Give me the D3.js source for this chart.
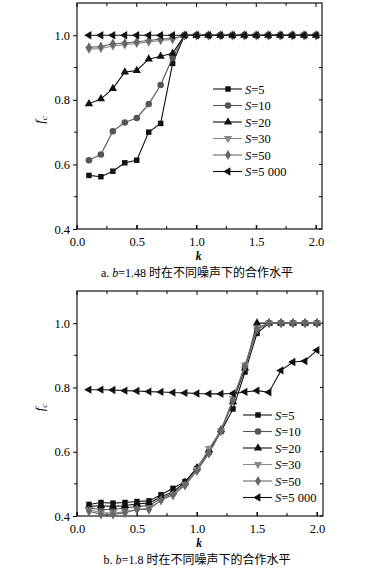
<!DOCTYPE html>
<html>
<head>
<meta charset="utf-8">
<script src="https://cdn.jsdelivr.net/npm/d3@7"></script>
<style>
  body { margin: 0; background: #fff; }
</style>
</head>
<body>
<svg id="chart" width="367" height="568"></svg>
<script>
// k values, shared by both panels
const kVals = [0.1,0.2,0.3,0.4,0.5,0.6,0.7,0.8,0.9,1.0,1.1,1.2,1.3,1.4,1.5,1.6,1.7,1.8,1.9,2.0];
const seriesNames = ["5", "10", "20", "30", "50", "5 000"];

// panel a: b=1.48
const topS5    = [0.566,0.562,0.579,0.605,0.613,0.700,0.727,0.913,1,1,1,1,1,1,1,1,1,1,1,1];
const topS10   = [0.613,0.631,0.703,0.730,0.744,0.787,0.846,0.931,1,1,1,1,1,1,1,1,1,1,1,1];
const topS20   = [0.788,0.803,0.835,0.886,0.891,0.926,0.935,0.944,1,1,1,1,1,1,1,1,1,1,1,1];
const topS30   = [0.957,0.959,0.967,0.971,0.975,0.979,0.984,0.987,1,1,1,1,1,1,1,1,1,1,1,1];
const topS50   = [0.963,0.965,0.974,0.976,0.980,0.984,0.988,0.990,1,1,1,1,1,1,1,1,1,1,1,1];
const topS5000 = [1,1,1,1,1,1,1,1,1,1,1,1,1,1,1,1,1,1,1,1];

// panel b: b=1.8
const botS5    = [0.436,0.442,0.440,0.442,0.445,0.447,0.466,0.486,0.507,0.548,0.598,0.663,0.733,0.848,0.968,1,1,1,1,1];
const botS10   = [0.425,0.420,0.420,0.425,0.430,0.432,0.455,0.470,0.500,0.545,0.600,0.665,0.760,0.865,0.985,1,1,1,1,1];
const botS20   = [0.430,0.432,0.430,0.432,0.438,0.440,0.460,0.475,0.505,0.550,0.605,0.668,0.755,0.860,1,1,1,1,1,1];
const botS30   = [0.420,0.410,0.410,0.412,0.420,0.425,0.448,0.468,0.498,0.545,0.610,0.665,0.765,0.870,0.985,1,1,1,1,1];
const botS50   = [0.415,0.405,0.405,0.410,0.420,0.420,0.450,0.465,0.495,0.540,0.595,0.665,0.760,0.865,0.980,1,1,1,1,1];
const botS5000 = [0.793,0.793,0.792,0.790,0.789,0.787,0.786,0.784,0.783,0.781,0.780,0.780,0.781,0.786,0.790,0.785,0.853,0.879,0.882,0.916];

const xTicks = [0, 0.5, 1.0, 1.5, 2.0];
const yTicks = [0.4, 0.6, 0.8, 1.0];

const SERIF = '"Liberation Serif", "Times New Roman", serif';
const CAPFONT = '"Liberation Serif", "Noto Sans CJK SC", serif';

// marker style per series (same order as seriesNames)
const styles = [
  { color: "#111", marker: d3.symbolSquare, rot: 0 },
  { color: "#555", marker: d3.symbolCircle, rot: 0 },
  { color: "#111", marker: d3.symbolTriangle, rot: 0 },
  { color: "#8a8a8a", marker: d3.symbolTriangle, rot: 180 },
  { color: "#666", marker: d3.symbolDiamond, rot: 0 },
  { color: "#111", marker: d3.symbolTriangle, rot: -90 }
];

const svg = d3.select("#chart");

function drawPanel(opt) {
  const { left, right, top, bottom, data, legendX, legendY, caption, bVal } = opt;
  const x = d3.scaleLinear().domain([0, 2.05]).range([left, right]);
  const y = d3.scaleLinear().domain([0.4, 1.1]).range([bottom, top]);
  const g = svg.append("g").attr("font-family", SERIF);

  // frame
  g.append("rect").attr("x", left).attr("y", top)
    .attr("width", right - left).attr("height", bottom - top)
    .attr("fill", "none").attr("stroke", "#000").attr("stroke-width", 1.1);

  // x axis: ticks point inward
  const xAxis = d3.axisBottom(x).tickValues(xTicks).tickFormat(d3.format(".1f"))
    .tickSizeInner(-4).tickSizeOuter(0).tickPadding(8);
  g.append("g").attr("transform", `translate(0,${bottom})`).call(xAxis)
    .attr("font-family", SERIF)
    .call(a => a.select(".domain").remove())
    .call(a => a.selectAll("text").attr("font-size", 12.5).attr("fill", "#000").style("font-family", SERIF));
  // minor x ticks + top ticks
  d3.range(0, 2.01, 0.25).forEach(v => {
    const len = (v % 0.5 === 0) ? 4 : 3;
    g.append("line").attr("x1", x(v)).attr("x2", x(v)).attr("y1", bottom).attr("y2", bottom - len).attr("stroke", "#000");
    g.append("line").attr("x1", x(v)).attr("x2", x(v)).attr("y1", top).attr("y2", top + len).attr("stroke", "#000");
  });

  // y axis: ticks outward
  const yAxis = d3.axisLeft(y).tickValues(yTicks).tickFormat(d3.format(".1f"))
    .tickSizeInner(4).tickSizeOuter(0).tickPadding(3);
  g.append("g").attr("transform", `translate(${left},0)`).call(yAxis)
    .attr("font-family", SERIF)
    .call(a => a.select(".domain").remove())
    .call(a => a.selectAll("text").attr("font-size", 12.5).attr("fill", "#000").style("font-family", SERIF));
  d3.range(0.5, 1.01, 0.2).forEach(v => {
    g.append("line").attr("x1", left).attr("x2", left - 3).attr("y1", y(v)).attr("y2", y(v)).attr("stroke", "#000");
  });
  d3.range(0.4, 1.01, 0.1).forEach(v => {
    g.append("line").attr("x1", right).attr("x2", right - 3).attr("y1", y(v)).attr("y2", y(v)).attr("stroke", "#000");
  });

  // axis titles
  g.append("text").attr("x", (x(0) + x(2)) / 2 + 2).attr("y", bottom + 31)
    .attr("text-anchor", "middle").attr("font-size", 11.5).attr("font-style", "italic")
    .attr("font-weight", "bold").style("font-family", SERIF).text("k");
  const yl = g.append("text")
    .attr("transform", `translate(${left - 33},${(top + bottom) / 2 + 4}) rotate(-90)`)
    .attr("text-anchor", "middle").attr("font-size", 13).attr("font-style", "italic").style("font-family", SERIF);
  yl.append("tspan").text("f");
  yl.append("tspan").attr("font-size", 9).attr("dy", 3).text("c");

  // series
  const line = d3.line().x((d, i) => x(kVals[i])).y(d => y(d));
  data.forEach((vals, si) => {
    const st = styles[si];
    g.append("path").datum(vals).attr("d", line)
      .attr("fill", "none").attr("stroke", st.color).attr("stroke-width", 1.1);
    g.selectAll(null).data(vals).join("path")
      .attr("d", d3.symbol().type(st.marker).size(st.marker === d3.symbolCircle ? 34 : 30))
      .attr("transform", (d, i) => `translate(${x(kVals[i])},${y(d)}) rotate(${st.rot})`)
      .attr("fill", st.color);
  });

  // legend
  seriesNames.forEach((name, si) => {
    const st = styles[si];
    const ly = legendY + si * 16.5;
    g.append("line").attr("x1", legendX).attr("x2", legendX + 29).attr("y1", ly).attr("y2", ly)
      .attr("stroke", st.color).attr("stroke-width", 1.1);
    g.append("path").attr("d", d3.symbol().type(st.marker).size(st.marker === d3.symbolCircle ? 34 : 30))
      .attr("transform", `translate(${legendX + 15},${ly}) rotate(${st.rot})`).attr("fill", st.color);
    const t = g.append("text").attr("x", legendX + 32).attr("y", ly + 4.5).attr("font-size", 12.5)
      .style("font-family", SERIF);
    t.append("tspan").attr("font-style", "italic").text("S");
    t.append("tspan").text("=" + name);
  });

  // caption
  const c = g.append("text").attr("x", 197).attr("y", bottom + 48)
    .attr("text-anchor", "middle").attr("font-size", 12).style("font-family", CAPFONT);
  c.append("tspan").text(caption[0] + " ");
  c.append("tspan").attr("font-style", "italic").text("b");
  c.append("tspan").text("=" + bVal + " " + caption[1]);
}

drawPanel({
  left: 77, right: 322, top: 3, bottom: 229,
  data: [topS5, topS10, topS20, topS30, topS50, topS5000],
  legendX: 213, legendY: 89,
  caption: ["a.", "时在不同噪声下的合作水平"], bVal: "1.48"
});

drawPanel({
  left: 77, right: 323, top: 291, bottom: 516,
  data: [botS5, botS10, botS20, botS30, botS50, botS5000],
  legendX: 243, legendY: 415,
  caption: ["b.", "时在不同噪声下的合作水平"], bVal: "1.8"
});
</script>
</body>
</html>
